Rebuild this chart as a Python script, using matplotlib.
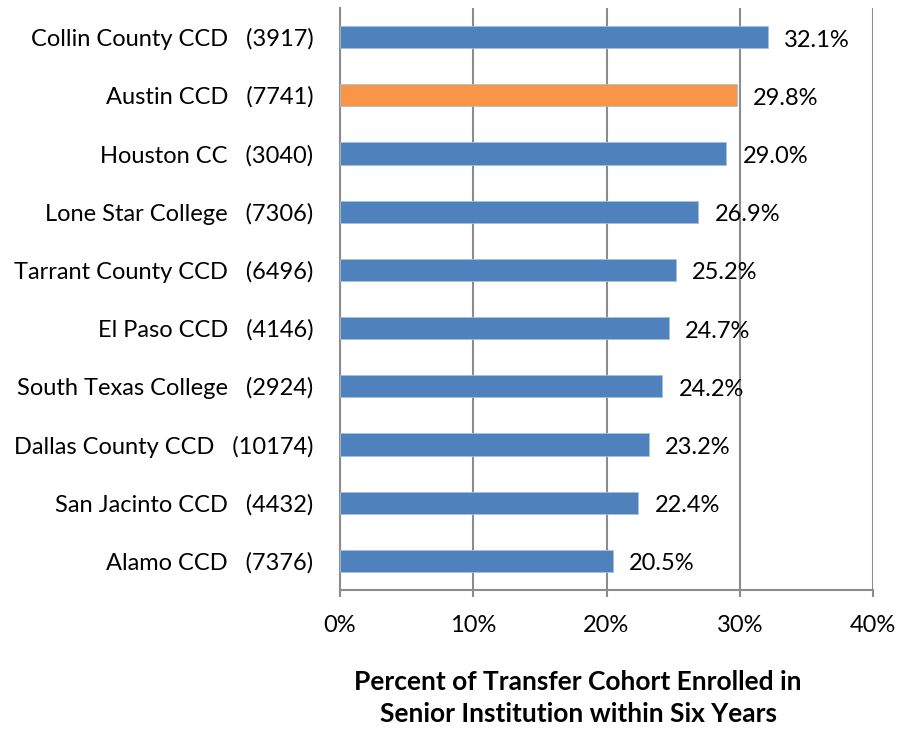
import matplotlib.pyplot as plt

colleges = ["Collin County CCD", "Austin CCD", "Houston CC", "Lone Star College",
            "Tarrant County CCD", "El Paso CCD", "South Texas College",
            "Dallas County CCD", "San Jacinto CCD", "Alamo CCD"]
cohort = [3917, 7741, 3040, 7306, 6496, 4146, 2924, 10174, 4432, 7376]
pct = [32.1, 29.8, 29.0, 26.9, 25.2, 24.7, 24.2, 23.2, 22.4, 20.5]
highlight = "Austin CCD"

BLUE = "#4F81BD"
ORANGE = "#F79646"
GRID = "#8C8C8C"

plt.rcParams["font.family"] = ["Lato", "DejaVu Sans"]

fig = plt.figure(figsize=(9, 7.3), dpi=100)
ax = fig.add_axes([340 / 900, 1 - 590 / 730, 533 / 900, 582 / 730])

ypos = list(range(len(colleges)))[::-1]
colors = [ORANGE if c == highlight else BLUE for c in colleges]
ax.barh(ypos, pct, height=0.38, color=colors, edgecolor="#A7C0DE", linewidth=0.6, zorder=3)

for y, v in zip(ypos, pct):
    ax.text(v + 1.2, y - 0.05, f"{v:.1f}%", va="center", ha="left", fontsize=17, zorder=4)

ax.set_xlim(0, 40)
ax.set_ylim(-0.5, len(colleges) - 0.5)
ax.set_xticks([0, 10, 20, 30, 40])
ax.set_xticklabels(["0%", "10%", "20%", "30%", "40%"], fontsize=17)
ax.set_yticks(ypos)
ax.set_yticklabels([f"{c}   ({n})" for c, n in zip(colleges, cohort)], fontsize=17)
ax.tick_params(axis="y", length=0, pad=19)
ax.tick_params(axis="x", length=5, width=1.5, color=GRID, pad=13)
ax.xaxis.grid(True, color=GRID, linewidth=1.5, zorder=0)
for s in ["top", "right"]:
    ax.spines[s].set_visible(False)
for s in ["left", "bottom"]:
    ax.spines[s].set_color(GRID)
    ax.spines[s].set_linewidth(1.5)

fig.text(578 / 900, 1 - 698 / 730,
         "Percent of Transfer Cohort Enrolled in\nSenior Institution within Six Years",
         ha="center", va="center", fontsize=19, fontweight="bold", linespacing=1.45)

fig.savefig("out.png", dpi=100)
